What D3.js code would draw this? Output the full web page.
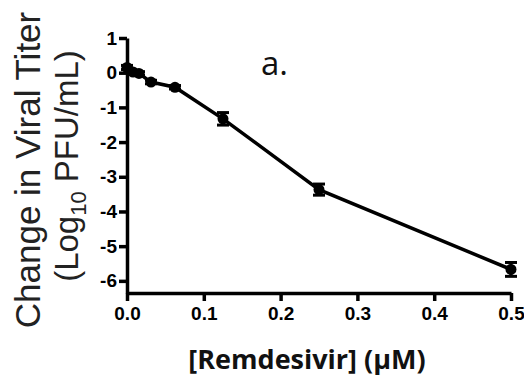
<!DOCTYPE html>
<html>
<head>
<meta charset="utf-8">
<script src="https://cdn.jsdelivr.net/npm/d3@7"></script>
<style>
  body { margin: 0; background: #fff; }
  svg { display: block; }
</style>
</head>
<body>
<svg id="chart" width="524" height="377"></svg>
<script>
// remdesivir concentration (uM) and change in titer (log10 PFU/mL)
const doses = [0, 0.0078, 0.0156, 0.03125, 0.0625, 0.125, 0.25, 0.5];
const titerChange = [0.15, 0.02, -0.02, -0.27, -0.42, -1.33, -3.37, -5.67];
const titerErr = [0.06, 0.05, 0.05, 0.05, 0.05, 0.18, 0.16, 0.2];
const xTicks = [0, 0.1, 0.2, 0.3, 0.4, 0.5];
const yTicks = [1, 0, -1, -2, -3, -4, -5, -6];

const svg = d3.select("#chart");

const xScale = d3.scaleLinear().domain([0, 0.5]).range([127, 511]);
const yScale = d3.scaleLinear().domain([-6.35, 1]).range([293, 38]);

let data = doses.map((d, i) => ({ x: d, y: titerChange[i], e: titerErr[i] }));

let xAxis = d3.axisBottom(xScale)
    .tickValues(xTicks)
    .tickFormat(d3.format(".1f"))
    .tickSize(8)
    .tickSizeOuter(0)
    .tickPadding(6);
let yAxis = d3.axisLeft(yScale)
    .tickValues(yTicks)
    .tickFormat(d => d)
    .tickSize(8)
    .tickSizeOuter(0)
    .tickPadding(2);

let gx = svg.append("g")
    .attr("transform", `translate(0, ${yScale(-6.35)})`)
    .call(xAxis);
let gy = svg.append("g")
    .attr("transform", `translate(${xScale(0)}, 0)`)
    .call(yAxis);

[gx, gy].forEach(g => {
    g.select(".domain").attr("stroke", "#000").attr("stroke-width", 3.5);
    g.selectAll(".tick line").attr("stroke", "#000").attr("stroke-width", 3.5);
    g.selectAll("text")
        .style("fill", "#000")
        .style("font-size", "19px")
        .style("font-weight", "bold")
        .style("font-family", "Liberation Sans, Arial, sans-serif");
});
// minus sign as plain hyphen like the original
gy.selectAll("text").text(d => d < 0 ? "-" + Math.abs(d) : d);

// error bars
let bars = svg.append("g");
data.forEach(d => {
    let x0 = xScale(d.x);
    bars.append("line")
        .attr("x1", x0).attr("x2", x0)
        .attr("y1", yScale(d.y + d.e)).attr("y2", yScale(d.y - d.e))
        .attr("stroke", "#000").attr("stroke-width", 3);
    [d.y + d.e, d.y - d.e].forEach(v => {
        bars.append("line")
            .attr("x1", x0 - 6).attr("x2", x0 + 6)
            .attr("y1", yScale(v)).attr("y2", yScale(v))
            .attr("stroke", "#000").attr("stroke-width", 3);
    });
});

let line = d3.line()
    .x(d => xScale(d.x))
    .y(d => yScale(d.y));

svg.append("path")
    .datum(data)
    .attr("d", line)
    .attr("fill", "none")
    .attr("stroke", "#000")
    .attr("stroke-width", 3.5);

svg.append("g").selectAll("circle")
    .data(data)
    .join("circle")
    .attr("cx", d => xScale(d.x))
    .attr("cy", d => yScale(d.y))
    .attr("r", 5.5)
    .attr("fill", "#000");

// y axis title (two lines)
svg.append("text")
    .attr("transform", "translate(40, 170) rotate(-90)")
    .attr("text-anchor", "middle")
    .style("font-family", "Liberation Sans, Arial, sans-serif")
    .style("font-size", "35px")
    .style("fill", "#222")
    .text("Change in Viral Titer");

let yTitle2 = svg.append("text")
    .attr("transform", "translate(78, 166) rotate(-90)")
    .attr("text-anchor", "middle")
    .style("font-family", "Liberation Sans, Arial, sans-serif")
    .style("font-size", "33px")
    .style("fill", "#222");
yTitle2.append("tspan").text("(Log");
yTitle2.append("tspan").attr("font-size", "22px").attr("dy", 8).text("10");
yTitle2.append("tspan").attr("dy", -8).text(" PFU/mL)");

// x axis title
svg.append("text")
    .attr("x", 307)
    .attr("y", 369)
    .attr("text-anchor", "middle")
    .style("font-family", "Open Sans, sans-serif")
    .style("font-weight", "bold")
    .style("font-size", "27px")
    .style("fill", "#111")
    .text("[Remdesivir] (\u00b5M)");

// panel label
svg.append("text")
    .attr("x", 261)
    .attr("y", 75)
    .style("font-family", "Open Sans, sans-serif")
    .style("font-size", "33px")
    .style("fill", "#111")
    .text("a.");
</script>
</body>
</html>
